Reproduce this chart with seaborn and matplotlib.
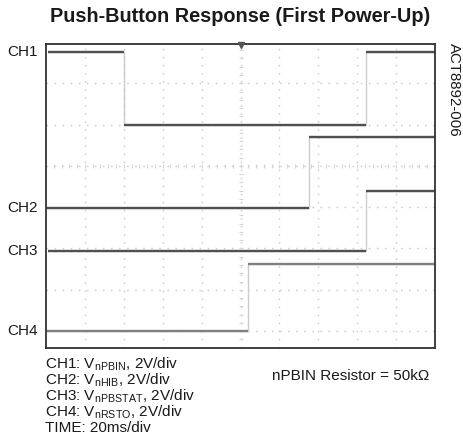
import numpy as np
import pandas as pd
import seaborn as sns
import matplotlib.pyplot as plt

# scope trace data, in screen divisions (x: 20ms/div, y: 2V/div)
channels = ['CH1', 'CH2', 'CH3', 'CH4']
ch1_t = [0.05, 2.0, 8.23, 10.0]
ch1_v = [6.76, 5.0, 6.76]
ch2_t = [0.0, 6.76, 10.0]
ch2_v = [2.98, 4.70]
ch3_t = [0.05, 8.23, 10.0]
ch3_v = [1.95, 3.39]
ch4_t = [0.0, 5.19, 10.0]
ch4_v = [0.0, 1.63]

times = [ch1_t, ch2_t, ch3_t, ch4_t]
levels = [ch1_v, ch2_v, ch3_v, ch4_v]

legend_lines = [
    r'CH1: V$_\mathregular{nPBIN}$, 2V/div',
    r'CH2: V$_\mathregular{nHIB}$, 2V/div',
    r'CH3: V$_\mathregular{nPBSTAT}$, 2V/div',
    r'CH4: V$_\mathregular{nRSTO}$, 2V/div',
    'TIME: 20ms/div',
]

rows = []
for name, t, v in zip(channels, times, levels):
    vv = list(v) + [v[-1]]
    for ti, vi in zip(t, vv):
        rows.append({'ch': name, 't': ti, 'v': vi})
df = pd.DataFrame(rows)

sns.set_style('white')
plt.rcParams['font.family'] = ['Liberation Sans', 'DejaVu Sans']
plt.rcParams['mathtext.fontset'] = 'custom'
plt.rcParams['mathtext.rm'] = 'Liberation Sans'

fig = plt.figure(figsize=(4.63, 4.41), dpi=100)
ax = fig.add_axes([46 / 463, 1 - 348 / 441, 389 / 463, 304 / 441])

# graticule
grid_kw = dict(color='#cdcdcd', lw=1.0, ls=(0, (1.2, 4.6)), zorder=0)
for gx in range(1, 10):
    ax.axvline(gx, **grid_kw)
for gy in range(0, 7):
    ax.axhline(gy, **grid_kw)
ticks = np.arange(0, 10.01, 0.2)
ax.plot(ticks, np.full_like(ticks, 4.0), ls='none', marker='|', ms=2.5, mew=0.8,
        color='#d6d6d6', zorder=0)
yt = np.arange(-0.4, 7.0, 0.2)
ax.plot(np.full_like(yt, 5.0), yt, ls='none', marker='_', ms=2.5, mew=0.8,
        color='#d6d6d6', zorder=0)

# faint step edges
sns.lineplot(data=df, x='t', y='v', units='ch', estimator=None, sort=False,
             drawstyle='steps-post', color='#cccccc', lw=1.0, ax=ax, zorder=1)

# dark horizontal traces
trace_colors = ['#505050', '#505050', '#505050', '#808080']
for t, v, c in zip(times, levels, trace_colors):
    ax.hlines(v, t[:-1], t[1:], color=c, lw=1.7, zorder=2)

# trigger marker
ax.plot(5.0, 6.93, marker='v', ms=4, color='#555555', clip_on=False, zorder=3)

for name, v in zip(channels, levels):
    ax.text(-0.2, v[0], name, ha='right', va='center', fontsize=11, color='#1a1a1a')

ax.set_xlim(0, 10)
ax.set_ylim(-0.41, 6.95)
ax.set_xticks([])
ax.set_yticks([])
ax.set_xlabel('')
ax.set_ylabel('')
for s in ax.spines.values():
    s.set_color('#333333')
    s.set_linewidth(1.3)

fig.text(240 / 463, 1 - 17 / 441, 'Push-Button Response (First Power-Up)',
         ha='center', va='center', fontsize=14.3, fontweight='bold', color='#1a1a1a')
fig.text(454 / 463, 1 - 43 / 441, 'ACT8892-006', rotation=270, ha='center', va='top',
         fontsize=10.8, color='#1a1a1a')

for i, line in enumerate(legend_lines):
    fig.text(45 / 463, 1 - (364 + 16 * i) / 441, line, ha='left', va='center',
             fontsize=11, color='#1a1a1a')
fig.text(272 / 463, 1 - 376 / 441, 'nPBIN Resistor = 50k\u03a9', ha='left', va='center',
         fontsize=11, color='#1a1a1a')

fig.savefig('out.png', dpi=100)
